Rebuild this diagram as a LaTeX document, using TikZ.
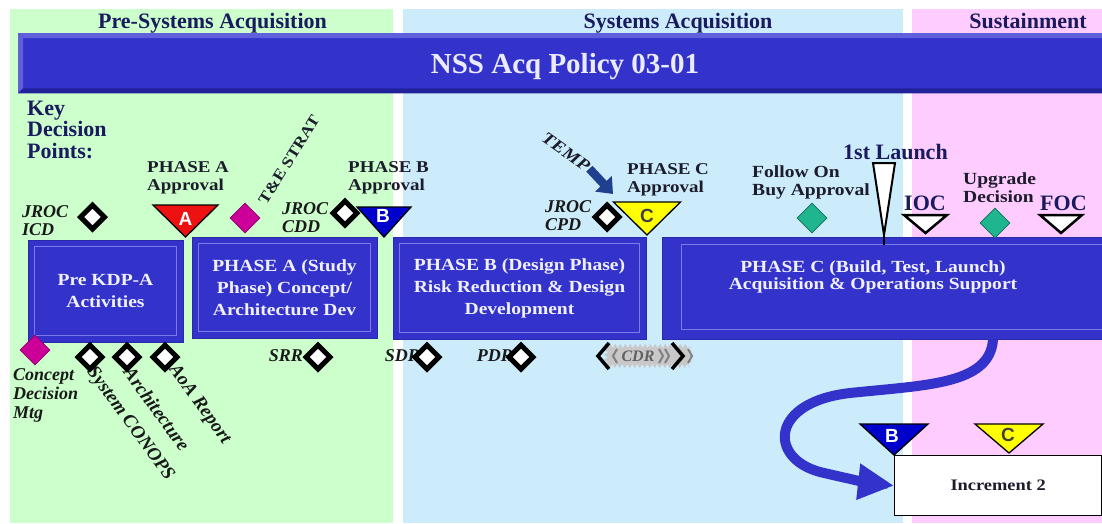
\documentclass[tikz,border=0pt]{standalone}
\usepackage{fontspec}
\setmainfont{Liberation Serif}
\newfontfamily\wfont[FakeStretch=1.15]{Liberation Serif}
\newfontfamily\lfont{Liberation Sans}
\usetikzlibrary{shapes.geometric,arrows.meta,decorations.pathmorphing}

\definecolor{bggreen}{HTML}{CCFFCC}
\definecolor{bgblue}{HTML}{CCEBFB}
\definecolor{bgpink}{HTML}{FFCCFF}
\definecolor{boxblue}{HTML}{3333CC}
\definecolor{boxedge}{HTML}{2A2AA8}
\definecolor{boxline}{HTML}{7A7AEA}
\definecolor{bannerhi}{HTML}{6060DD}
\definecolor{bannerlo}{HTML}{22229A}
\definecolor{navy}{HTML}{1A1A5E}
\definecolor{ink}{HTML}{1C1C2C}
\definecolor{trired}{HTML}{EE1111}
\definecolor{triblue}{HTML}{0000CC}
\definecolor{triyellow}{HTML}{FFFF00}
\definecolor{kdpmag}{HTML}{CC0099}
\definecolor{kdpgreen}{HTML}{1FB58F}
\definecolor{tempblue}{HTML}{1F3F8F}
\definecolor{cdrgray}{HTML}{C8C8C8}

\tikzset{
  header/.style={anchor=base, inner sep=0pt, text=navy, font=\bfseries\fontsize{22}{22}\selectfont},
  phasebox/.style={rectangle, draw=boxedge, fill=boxblue, line width=1pt, inner sep=0pt,
    text=white!94!blue, align=center, font=\wfont\bfseries\fontsize{17}{22}\selectfont},
  phasetext/.style={inner sep=0pt, text=white!94!blue, align=center, font=\wfont\bfseries\fontsize{17}{17.5}\selectfont},
  frameline/.style={draw=boxline, line width=0.8pt},
  approval/.style={anchor=west, inner sep=0pt, align=left, text=ink, font=\wfont\bfseries\fontsize{16.5}{17.5}\selectfont},
  kdpitem/.style={inner sep=0pt, text=black!90, align=left, font=\bfseries\itshape\fontsize{18}{18}\selectfont},
  slanted/.style={kdpitem, anchor=west, rotate=-54, font=\bfseries\itshape\fontsize{19}{19}\selectfont},
  opendiam/.style={diamond, draw=black, fill=white, line width=5pt, minimum size=26pt, inner sep=0pt},
  magdiam/.style={diamond, draw=kdpmag!70!black, fill=kdpmag, line width=0.6pt, minimum size=30pt, inner sep=0pt},
  grndiam/.style={diamond, draw=kdpgreen!60!black, fill=kdpgreen, line width=0.6pt, minimum size=30pt, inner sep=0pt},
  milestone/.style={anchor=base west, inner sep=0pt, text=navy, font=\bfseries\fontsize{22}{22}\selectfont},
  triletter/.style={inner sep=0pt, font=\lfont\bfseries\fontsize{19}{19}\selectfont},
  pics/kdptri/.style n args={3}{code={
    \draw[draw=black, line join=miter, fill=#3] (-#1,0) -- (#1,0) -- (0,#2) -- cycle;}},
  bigflow/.style={draw=boxblue, line width=10pt, -{Triangle[length=36pt,width=34pt]}},
  temparrow/.style={draw=tempblue, line width=8.5pt, -{Triangle[length=14pt,width=22pt]}},
}

\begin{document}
\begin{tikzpicture}[x=1pt, y=-1pt]
\useasboundingbox (0,0) rectangle (1102,523);
\fill[white] (0,0) rectangle (1102,523);

% acquisition stage bands
\fill[bggreen] (10,9) rectangle (393,523);
\fill[bgblue] (403,9) rectangle (903,523);
\fill[bgpink] (912,9) rectangle (1102,523);

\node[header] (hpre) at (212.5,28) {Pre-Systems Acquisition};
\node[header] (hsys) at (678,28) {Systems Acquisition};
\node[header] (hsus) at (1028,28) {Sustainment};

% policy banner with bevelled edges
\node[rectangle, fill=boxblue, minimum width=1092pt, minimum height=60pt, inner sep=0pt, anchor=north west] (banner) at (18,33) {};
\fill[bannerhi] (banner.north west) -- (banner.north east) -- ([shift={(0,5)}]banner.north east) -- ([shift={(5,5)}]banner.north west) -- cycle;
\fill[bannerhi] (banner.north west) -- ([shift={(5,5)}]banner.north west) -- ([shift={(5,-5)}]banner.south west) -- (banner.south west) -- cycle;
\fill[bannerlo] (banner.south west) -- ([shift={(5,-5)}]banner.south west) -- ([shift={(0,-5)}]banner.south east) -- (banner.south east) -- cycle;
\node[anchor=base, inner sep=0pt, text=white!92!blue, font=\bfseries\fontsize{29}{29}\selectfont] (title) at (565,73) {NSS Acq Policy 03-01};

\node[anchor=west, inner sep=0pt, align=left, text=navy, font=\bfseries\fontsize{22}{21.5}\selectfont] (kdp) at (27,129.5) {Key\\Decision\\Points:};

% phase boxes
\node[phasebox, minimum width=155pt, minimum height=102pt] (pka) at (105.5,291) {Pre KDP-A\\Activities};
\node[phasebox, minimum width=185pt, minimum height=101pt] (pha) at (284.5,287.5) {PHASE A (Study\\Phase) Concept/\\Architecture Dev};
\node[phasebox, minimum width=253pt, minimum height=102pt] (phb) at (519.5,288) {PHASE B (Design Phase)\\Risk Reduction \& Design\\Development};
\node[phasebox, minimum width=450pt, minimum height=102pt] (phc) at (887,288) {};
\foreach \b in {pka,pha,phb}
  \draw[frameline] ([shift={(7,7)}]\b.north west) rectangle ([shift={(-7,-7)}]\b.south east);
\draw[frameline] ([shift={(20,8)}]phc.north west) rectangle ([shift={(-7,-10)}]phc.south east);
\node[phasetext] (phct) at (873,277) {PHASE C (Build, Test, Launch)\\Acquisition \& Operations Support};

% approval labels
\node[approval] (lapa) at (147,178) {PHASE A\\Approval};
\node[approval] (lapb) at (348,178) {PHASE B\\Approval};
\node[approval] (lapc) at (627,180) {PHASE C\\Approval};
\node[approval, font=\wfont\bfseries\fontsize{17}{18}\selectfont] (lfob) at (752,182) {Follow On\\Buy Approval};
\node[approval, font=\wfont\bfseries\fontsize{17}{18}\selectfont] (lupg) at (963,188) {Upgrade\\Decision};

% phase approval triangles
\pic[line width=1.3pt] at (185.5,205) {kdptri={32.5}{32}{trired}};
\node[triletter, text=white] (la) at (185.5,219) {A};
\pic[line width=1.3pt] at (384,207) {kdptri={27}{30}{triblue}};
\node[triletter, text=white] (lb) at (383,216) {B};
\pic[line width=1.3pt] at (647,202) {kdptri={33.5}{33}{triyellow}};
\node[triletter, text=black!75] (lc) at (647,216) {C};

% key decision diamonds above the phases
\node[kdpitem, anchor=west] (ticd) at (22,221) {JROC\\ICD};
\node[opendiam] (dicd) at (92.5,217) {};
\node[magdiam] (dtes) at (245,218) {};
\node[rotate=58, inner sep=0pt, text=ink, font=\wfont\bfseries\fontsize{15.5}{16}\selectfont] (ttes) at (289,160) {T\&E STRAT};
\node[kdpitem, anchor=west] (tcdd) at (282,217.5) {JROC\\CDD};
\node[opendiam] (dcdd) at (345,213) {};
\node[kdpitem, anchor=west] (tcpd) at (545,216) {JROC\\CPD};
\node[opendiam] (dcpd) at (607,217) {};
\node[rotate=-35, inner sep=0pt, text=ink, font=\wfont\bfseries\itshape\fontsize{17}{17}\selectfont] (ttemp) at (566,152) {TEMP};
\coordinate (tempend) at (613,194);
\draw[temparrow] ([shift={(1,1)}]ttemp.east) -- (tempend);
\node[grndiam] (dfob) at (812,218) {};
\node[grndiam] (dupg) at (995,223) {};

% operational milestones
\node[milestone] (tlaunch) at (843,159) {1st Launch};
\pic[line width=2pt] at (884,163) {kdptri={11}{72}{white}};
\draw[line width=2pt] (884,234) -- (884,245);
\node[milestone] (tioc) at (904,210) {IOC};
\pic[line width=2.5pt] at (925.5,215) {kdptri={21.5}{18}{white}};
\node[milestone] (tfoc) at (1040,210) {FOC};
\pic[line width=2.5pt] at (1061,215) {kdptri={21}{18}{white}};

% key decision diamonds below the phases
\node[magdiam] (dcdm) at (35,350) {};
\node[kdpitem, anchor=west, font=\bfseries\itshape\fontsize{18}{19}\selectfont] (tcdm) at (13,395) {Concept\\Decision\\Mtg};
\node[slanted] (tcon) at (90,369) {System CONOPS};
\node[slanted] (tarc) at (128,369) {Architecture};
\node[slanted] (taoa) at (172,367) {AoA Report};
\node[opendiam] (dcon) at (90,357) {};
\node[opendiam] (darc) at (127,357) {};
\node[opendiam] (daoa) at (165,357) {};
\node[kdpitem, anchor=east] (tsrr) at (303,356) {SRR};
\node[opendiam] (dsrr) at (318,357) {};
\node[kdpitem, anchor=east] (tsdr) at (420,356) {SDR};
\node[opendiam] (dsdr) at (427,357) {};
\node[kdpitem, anchor=east] (tpdr) at (513,356) {PDR};
\node[opendiam] (dpdr) at (521,357) {};

% critical design review window
\fill[cdrgray, decorate, decoration={zigzag, segment length=5pt, amplitude=2pt}] (606,346) rectangle (690,366);
\node[kdpitem, text=black!62, font=\bfseries\itshape\fontsize{16}{16}\selectfont] (tcdr) at (638,356) {CDR};
\draw[line width=3.5pt, line join=miter] (609,343) -- (598,356) -- (609,369);
\draw[line width=3.5pt, line join=miter] (672,343) -- (683,356) -- (672,369);
\draw[gray, line width=2pt] (617,349) -- (613,356) -- (617,363);
\draw[gray, line width=2pt] (659,349) -- (663,356) -- (659,363);
\draw[gray, line width=2pt] (665,349) -- (669,356) -- (665,363);
\draw[gray, line width=2pt] (688,349) -- (692,356) -- (688,363);

% next increment
\node[rectangle, draw=black, line width=1.3pt, fill=white, minimum width=207pt, minimum height=60pt, inner sep=0pt,
  anchor=north west, text=ink, font=\wfont\bfseries\fontsize{16}{16}\selectfont] (inc2) at (894,455) {Increment 2};
\pic[line width=1.3pt] at (894,424) {kdptri={34}{31}{triblue}};
\node[triletter, text=white] (lb2) at (892,436) {B};
\pic[line width=1.3pt] at (1009,424) {kdptri={34}{29}{triyellow}};
\node[triletter, text=black!75] (lc2) at (1008,435) {C};

\draw[bigflow] ([xshift=106pt]phc.south) .. controls (990,385) and (925,385) .. (850,393)
  .. controls (770,402) and (768,458) .. (820,472) .. controls (845,478) and (870,483) .. (inc2.west);
\end{tikzpicture}
\end{document}
